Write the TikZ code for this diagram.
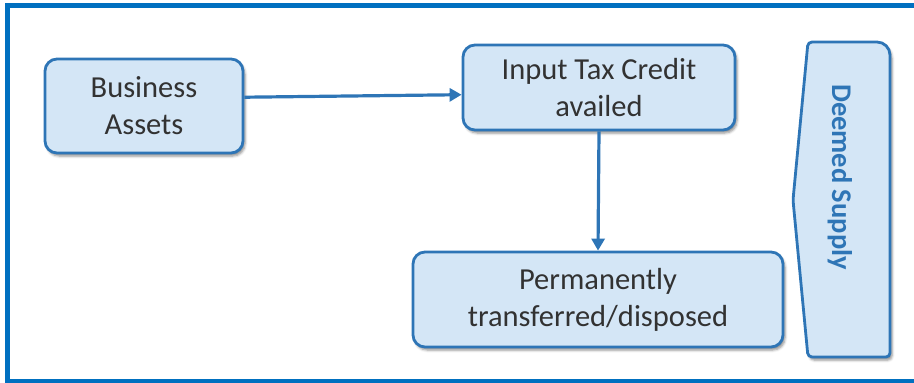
\documentclass[tikz,border=0pt]{standalone}
\usepackage{fontspec}
\setmainfont{Carlito}
\usetikzlibrary{arrows.meta, shadows.blur}
\definecolor{frameblue}{RGB}{0,112,192}
\definecolor{boxblue}{RGB}{46,117,182}
\definecolor{boxfill}{RGB}{212,230,246}
\definecolor{txtgray}{RGB}{50,50,50}

\begin{document}
\begin{tikzpicture}[x=1pt, y=-1pt,
    softshadow/.style={blur shadow={shadow xshift=2pt, shadow yshift=-3pt, shadow blur radius=2.5pt, shadow opacity=45}},
    stepbox/.style={rectangle, draw=boxblue, fill=boxfill, line width=2.8pt, rounded corners=12pt, align=center, inner sep=0pt, font=\fontsize{30.5}{37}\selectfont, text=txtgray, softshadow},
    arrow/.style={-{Triangle[length=12pt, width=13pt]}, line width=3.2pt, draw=boxblue}
  ]
    \useasboundingbox (0,0) rectangle (914,383);

    % outer frame, open on the right
    \draw[frameblue, line width=4.5pt] (914,5.5) -- (7.5,5.5) -- (7.5,381) -- (914,381);

    \node[stepbox, minimum width=198pt, minimum height=94pt] (assets) at (144,106) {Business\\Assets};
    \node[stepbox, minimum width=272pt, minimum height=85pt] (itc) at (599,87.5) {Input Tax Credit\\availed};
    \node[stepbox, minimum width=370pt, minimum height=95pt] (disposed) at (598,299.5) {Permanently\\transferred/disposed};

    % side banner
    \draw[draw=boxblue, fill=boxfill, line width=2.8pt, softshadow, rounded corners=3pt]
      (808,42) [rounded corners=13pt] -- (890,42) [rounded corners=4pt] -- (890,357) -- (808,357) -- (793,200) -- cycle;
    \node[rotate=-90, font=\fontsize{28.5}{32}\selectfont\bfseries, text=boxblue] (deemed) at (840,177) {Deemed Supply};

    \draw[arrow] (assets.5) -- (itc.183);
    \draw[arrow] (itc.south) -- (disposed.north);
  \end{tikzpicture}
\end{document}
